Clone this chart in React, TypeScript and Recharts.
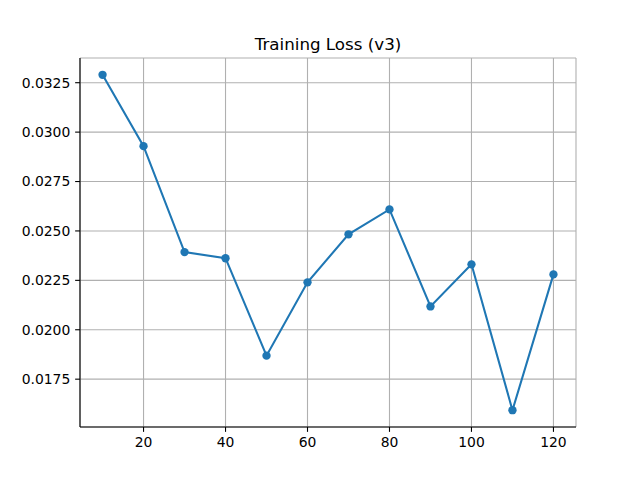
import { LineChart, Line, XAxis, YAxis, CartesianGrid } from 'recharts';

// Training steps (x) and loss values (y)
const steps = [10, 20, 30, 40, 50, 60, 70, 80, 90, 100, 110, 120];
const losses = [0.0329, 0.02929, 0.02393, 0.02362, 0.01869, 0.0224, 0.02483, 0.02609, 0.02118, 0.02331, 0.01593, 0.0228];

const xTicks = [20, 40, 60, 80, 100, 120];
const yTicks = [0.0175, 0.02, 0.0225, 0.025, 0.0275, 0.03, 0.0325];

const data = steps.map((step, i) => ({ step, loss: losses[i] }));

const FONT = '"DejaVu Sans", sans-serif';

export default function App() {
    const tickStyle = { fill: '#000', fontSize: 13.9, fontFamily: FONT };

    return (
        <div style={{ position: 'absolute', left: 0, top: 0, width: 640, height: 480, background: '#fff' }}>
            <div
                style={{
                    position: 'absolute',
                    left: 80,
                    width: 496,
                    top: 34,
                    lineHeight: 'normal',
                    textAlign: 'center',
                    fontFamily: FONT,
                    fontSize: 16.7,
                    color: '#000',
                }}
            >
                Training Loss (v3)
            </div>
            <LineChart width={640} height={480} data={data} margin={{ top: 58, right: 64, bottom: 0, left: 0 }}>
                <CartesianGrid stroke="#b0b0b0" strokeWidth={1.1} />
                <XAxis
                    dataKey="step"
                    type="number"
                    domain={[4.5, 125.5]}
                    ticks={xTicks}
                    height={53}
                    tickSize={4.86}
                    tickMargin={4.86}
                    tick={tickStyle}
                    stroke="#000"
                    tickLine={{ stroke: '#000', strokeWidth: 1.1 }}
                    axisLine={{ stroke: '#000', strokeWidth: 1.1 }}
                    allowDataOverflow
                />
                <XAxis
                    xAxisId="top"
                    orientation="top"
                    dataKey="step"
                    type="number"
                    domain={[4.5, 125.5]}
                    height={0}
                    tick={false}
                    tickLine={false}
                    axisLine={{ stroke: '#000', strokeWidth: 1.1 }}
                    allowDataOverflow
                />
                <YAxis
                    type="number"
                    domain={[0.01508, 0.03375]}
                    ticks={yTicks}
                    width={80}
                    tickSize={4.86}
                    tickMargin={4.86}
                    tick={tickStyle}
                    tickFormatter={(v: number) => v.toFixed(4)}
                    stroke="#000"
                    tickLine={{ stroke: '#000', strokeWidth: 1.1 }}
                    axisLine={{ stroke: '#000', strokeWidth: 1.1 }}
                    allowDataOverflow
                />
                <YAxis
                    yAxisId="right"
                    orientation="right"
                    type="number"
                    domain={[0.01508, 0.03375]}
                    width={0}
                    tick={false}
                    tickLine={false}
                    axisLine={{ stroke: '#000', strokeWidth: 1.1 }}
                    allowDataOverflow
                />
                <Line
                    type="linear"
                    dataKey="loss"
                    stroke="#1f77b4"
                    strokeWidth={2.08}
                    dot={{ r: 4.17, fill: '#1f77b4', stroke: 'none' }}
                    activeDot={false}
                    isAnimationActive={false}
                />
            </LineChart>
        </div>
    );
}
